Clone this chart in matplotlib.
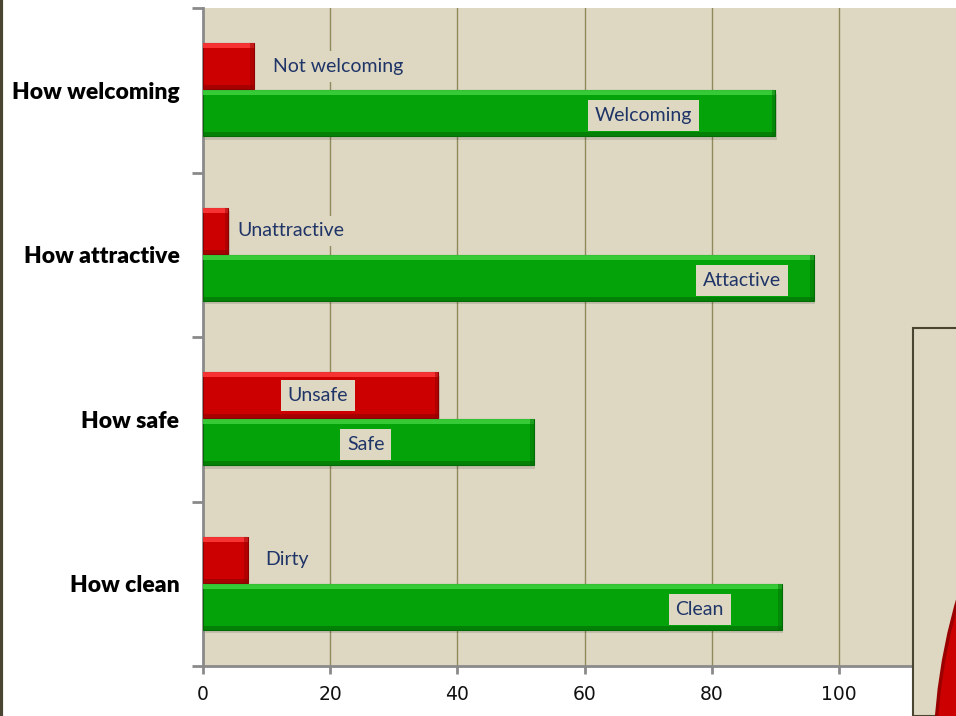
import numpy as np
import matplotlib.pyplot as plt
from matplotlib.patches import Rectangle, Ellipse
from matplotlib.lines import Line2D

# survey results, bottom row first
categories = ["How clean", "How safe", "How attractive", "How welcoming"]
negative = [7, 37, 4, 8]
positive = [91, 52, 96, 90]
negative_labels = ["Dirty", "Unsafe", "Unattractive", "Not welcoming"]
positive_labels = ["Clean", "Safe", "Attactive", "Welcoming"]
x_ticks = [0, 20, 40, 60, 80, 100]

# where each data label sits along the value axis
neg_label_x = [13.2, 18.1, 13.8, 21.2]
pos_label_x = [78.1, 25.6, 84.7, 69.2]

W, H = 956, 716
BG = "#ded8c3"
RED = "#cc0000"
GREEN = "#05a30a"
NAVY = "#1f3467"
BAR_H = 0.28


def bevel_bar(ax, y, value, color, light, dark):
    """Draw a bar with a flat bevel look: shadow, light top, dark bottom."""
    # soft drop shadow
    ax.add_patch(Rectangle((0.25, y - BAR_H / 2 - 0.02), value, BAR_H,
                           facecolor="#000000", alpha=0.12, lw=0, zorder=2))
    ax.barh(y, value, height=BAR_H, color=color, edgecolor=dark,
            linewidth=0.8, zorder=3)
    top = y + BAR_H / 2
    bot = y - BAR_H / 2
    ax.add_patch(Rectangle((0, top - 0.03), value, 0.03,
                           facecolor=light, lw=0, alpha=0.85, zorder=4))
    ax.add_patch(Rectangle((0, bot), value, 0.025,
                           facecolor=dark, lw=0, alpha=0.6, zorder=4))
    ax.add_patch(Rectangle((value - 0.6, bot), 0.6, BAR_H,
                           facecolor=dark, lw=0, alpha=0.45, zorder=4))


fig = plt.figure(figsize=(W / 100, H / 100), dpi=100)
fig.patch.set_facecolor("white")

px = 6.36  # pixels per value unit
left, right = 203, 203 + 120 * px
bottom, top = 666, 8
ax = fig.add_axes([left / W, (H - bottom) / H, (right - left) / W,
                   (bottom - top) / H])
ax.set_facecolor(BG)
ax.set_xlim(0, 120)
ax.set_ylim(-0.5, 3.5)

y = np.arange(len(categories))
for i in y:
    bevel_bar(ax, i + 0.145, negative[i], RED, "#ff3b3b", "#8e0000")
    bevel_bar(ax, i - 0.14, positive[i], GREEN, "#3fd13f", "#036b06")

box = dict(boxstyle="square,pad=0.35", facecolor=BG, edgecolor="none")
for i in y:
    ax.text(neg_label_x[i], i + 0.145, negative_labels[i], ha="center",
            va="center", color=NAVY, fontsize=14, family="Lato",
            bbox=box, zorder=6)
    ax.text(pos_label_x[i], i - 0.155, positive_labels[i], ha="center",
            va="center", color=NAVY, fontsize=14, family="Lato",
            bbox=box, zorder=6)

# grid and axes
ax.set_xticks(x_ticks)
ax.set_xticklabels([str(t) for t in x_ticks], fontsize=13.5,
                   family="DejaVu Sans", color="#111111")
for t in x_ticks[1:]:
    ax.axvline(t, color="#8f895c", lw=1, zorder=1)
ax.set_yticks(np.arange(-0.5, 4, 1))
ax.set_yticklabels([])
ax.set_yticks(y, minor=True)
ax.set_yticklabels(categories, minor=True, fontsize=16.5, fontweight="heavy",
                   family="Lato", color="black")
ax.tick_params(axis="y", which="minor", length=0, pad=17)
ax.tick_params(axis="y", which="major", length=8, width=2, color="#8a8a8a")
ax.tick_params(axis="x", length=6, width=2, color="#8a8a8a", pad=8)
for side in ["top", "right"]:
    ax.spines[side].set_visible(False)
for side in ["left", "bottom"]:
    ax.spines[side].set_color("#8a8a8a")
    ax.spines[side].set_linewidth(2)

# overlapping panel on the right with the edge of a red disc
panel = Rectangle((913 / W, 0), 60 / W, (H - 328) / H,
                  transform=fig.transFigure, facecolor=BG,
                  edgecolor="#4a4530", lw=1.5, zorder=10)
fig.add_artist(panel)
disc = Ellipse((1512 / W, (H - 760) / H), 2 * 577 / W, 2 * 577 / H,
               transform=fig.transFigure, facecolor=RED,
               edgecolor="#9a0000", lw=2.5, zorder=11)
disc.set_clip_path(panel)
fig.add_artist(disc)

# dark rule down the left edge
fig.add_artist(Line2D([1 / W, 1 / W], [0, 1], transform=fig.transFigure,
                      color="#4a4530", lw=3))

fig.savefig("out.png", dpi=100)
